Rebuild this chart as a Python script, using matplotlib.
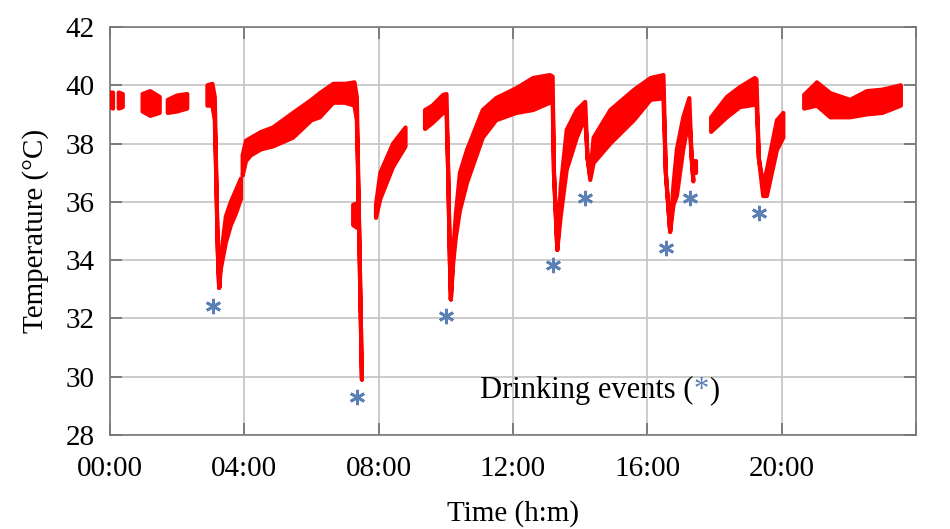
import matplotlib
matplotlib.use("Agg")
import matplotlib.pyplot as plt

plt.rcParams['font.family'] = ['Liberation Serif', 'DejaVu Serif']

# Temperature record as (hour, lower edge, upper edge)
# of the noisy red band. Drops are thin, so lower == upper there.
seg_a_h = [0.0, 0.09]
seg_a_lo = [39.25, 39.2]
seg_a_hi = [39.75, 39.75]

seg_b_h = [0.26, 0.38]
seg_b_lo = [39.2, 39.25]
seg_b_hi = [39.75, 39.7]

seg_c_h = [0.97, 1.2, 1.48]
seg_c_lo = [39.1, 38.95, 39.05]
seg_c_hi = [39.7, 39.8, 39.6]

seg_d_h = [1.72, 2.0, 2.3]
seg_d_lo = [39.05, 39.1, 39.2]
seg_d_hi = [39.5, 39.65, 39.7]

seg_e_h = [2.9, 3.05, 3.12, 3.17, 3.21, 3.25, 3.3, 3.45, 3.6, 3.75, 3.9]
seg_e_lo = [39.3, 39.3, 38.8, 36.5, 34.3, 33.05, 33.7, 34.6, 35.2, 35.6, 36.1]
seg_e_hi = [40.0, 40.05, 39.6, 36.5, 34.3, 33.05, 34.1, 35.5, 36.0, 36.4, 36.8]

seg_f_h = [3.95, 4.05, 4.2, 4.5, 4.85, 5.45, 6.0, 6.25, 6.65, 7.0, 7.28, 7.35,
           7.42, 7.5]
seg_f_lo = [36.9, 37.4, 37.6, 37.8, 37.9, 38.2, 38.8, 38.9, 39.4, 39.4, 39.3,
            38.8, 35.0, 29.9]
seg_f_hi = [37.6, 38.1, 38.2, 38.4, 38.55, 39.05, 39.5, 39.73, 40.05, 40.05,
            40.1, 39.6, 35.0, 29.9]

seg_g_h = [7.24, 7.37]
seg_g_lo = [35.2, 35.1]
seg_g_hi = [35.9, 35.95]

seg_h_h = [7.92, 8.05, 8.43, 8.8]
seg_h_lo = [35.45, 36.1, 37.2, 37.9]
seg_h_hi = [35.9, 37.0, 38.0, 38.55]

seg_i_h = [9.38, 9.6, 9.92, 10.02, 10.07, 10.12, 10.15, 10.22, 10.3, 10.42,
           10.63, 11.1, 11.5, 12.1, 12.6, 13.1, 13.18, 13.22, 13.32, 13.42,
           13.6, 13.9, 14.15, 14.22, 14.3, 14.4, 14.9, 15.6, 16.1, 16.48,
           16.55, 16.68, 16.78, 16.88, 17.07, 17.25, 17.32, 17.37]
seg_i_lo = [38.5, 38.7, 39.05, 39.1, 37.0, 34.0, 32.65, 33.9, 34.8, 35.7,
            36.65, 38.2, 38.8, 39.05, 39.15, 39.4, 39.5, 37.0, 34.35, 35.5,
            37.1, 38.2, 38.9, 37.5, 36.75, 37.33, 38.0, 38.8, 39.5, 39.55,
            37.0, 34.97, 35.9, 36.2, 37.8, 38.9, 37.5, 36.7]
seg_i_hi = [39.15, 39.3, 39.67, 39.7, 37.0, 34.0, 32.65, 34.3, 35.6, 37.0,
            37.78, 39.15, 39.56, 39.9, 40.25, 40.35, 40.3, 37.0, 34.35, 36.5,
            38.47, 39.15, 39.43, 37.5, 36.9, 38.2, 39.15, 39.84, 40.25, 40.35,
            37.0, 34.97, 36.6, 37.8, 38.9, 39.56, 37.5, 36.8]

seg_j_h = [17.42, 17.46]
seg_j_lo = [37.0, 37.0]
seg_j_hi = [37.4, 37.4]

seg_k_h = [17.9, 18.37, 18.76, 19.2, 19.25, 19.32, 19.45, 19.56, 19.86, 20.05]
seg_k_lo = [38.4, 38.9, 39.25, 39.33, 39.5, 37.5, 36.2, 36.2, 37.78, 38.2]
seg_k_hi = [38.9, 39.6, 39.94, 40.25, 40.2, 37.5, 36.6, 37.1, 38.8, 39.05]

seg_l_h = [20.67, 21.05, 21.45, 22.04, 22.54, 23.0, 23.55]
seg_l_lo = [39.2, 39.3, 38.9, 38.9, 39.0, 39.05, 39.3]
seg_l_hi = [39.67, 40.1, 39.73, 39.5, 39.8, 39.85, 40.0]

# Drinking events (blue asterisks)
drink_h = [3.07, 7.35, 10.0, 13.19, 14.15, 16.56, 17.27, 19.33]
drink_t = [32.43, 29.3, 32.08, 33.83, 36.13, 34.42, 36.13, 35.62]

xtick_h = [0, 4, 8, 12, 16, 20, 24]
xtick_labels = ["00:00", "04:00", "08:00", "12:00", "16:00", "20:00", ""]
ytick_t = [28, 30, 32, 34, 36, 38, 40, 42]

segments = [(seg_a_h, seg_a_lo, seg_a_hi), (seg_b_h, seg_b_lo, seg_b_hi),
            (seg_c_h, seg_c_lo, seg_c_hi), (seg_d_h, seg_d_lo, seg_d_hi),
            (seg_e_h, seg_e_lo, seg_e_hi), (seg_f_h, seg_f_lo, seg_f_hi),
            (seg_g_h, seg_g_lo, seg_g_hi), (seg_h_h, seg_h_lo, seg_h_hi),
            (seg_i_h, seg_i_lo, seg_i_hi), (seg_j_h, seg_j_lo, seg_j_hi),
            (seg_k_h, seg_k_lo, seg_k_hi), (seg_l_h, seg_l_lo, seg_l_hi)]

red = '#ff0000'
blue = '#5b80b6'

fig = plt.figure(figsize=(9.5, 5.29), dpi=100, facecolor='white')
ax = fig.add_axes([0.1158, 0.1777, 0.8484, 0.7713])

for hours, lo, hi in segments:
    xs = list(hours) + list(hours)[::-1]
    ys = list(hi) + list(lo)[::-1]
    ax.fill(xs, ys, facecolor=red, edgecolor=red, linewidth=3,
            joinstyle='round', zorder=3)

ax.plot(drink_h, drink_t, linestyle='none', marker=(6, 2, 0), markersize=11,
        markeredgewidth=2.0, color=blue, zorder=4)

# label built from pieces so the asterisk can be blue
t1 = ax.text(11.02, 29.27, "Drinking events (", fontsize=22, va='baseline',
             ha='left', zorder=5)
t2 = ax.annotate("*", xy=(1, 0), xycoords=t1, fontsize=22, color=blue,
                 va='bottom', ha='left', zorder=5)
ax.annotate(")", xy=(1, 0), xycoords=t2, fontsize=22, va='bottom', ha='left',
            zorder=5)

ax.set_xlim(0, 24)
ax.set_ylim(28, 42)
ax.set_xticks(xtick_h)
ax.set_xticklabels(xtick_labels)
ax.set_yticks(ytick_t)
ax.grid(True, color='#c4c4c4', linewidth=1.2, zorder=0)
ax.set_axisbelow(True)
ax.tick_params(direction='in', length=8.5, width=1.1, color='#666666',
               top=True, right=True, labelsize=21, pad=11)
ax.tick_params(axis='x', pad=15)
for sp in ax.spines.values():
    sp.set_color('#777777')
    sp.set_linewidth(1.2)

ax.set_xlabel("Time (h:m)", fontsize=21, labelpad=13)
ax.set_ylabel("Temperature (°C)", fontsize=21, labelpad=12)

fig.savefig('out.png', dpi=100, facecolor='white')
